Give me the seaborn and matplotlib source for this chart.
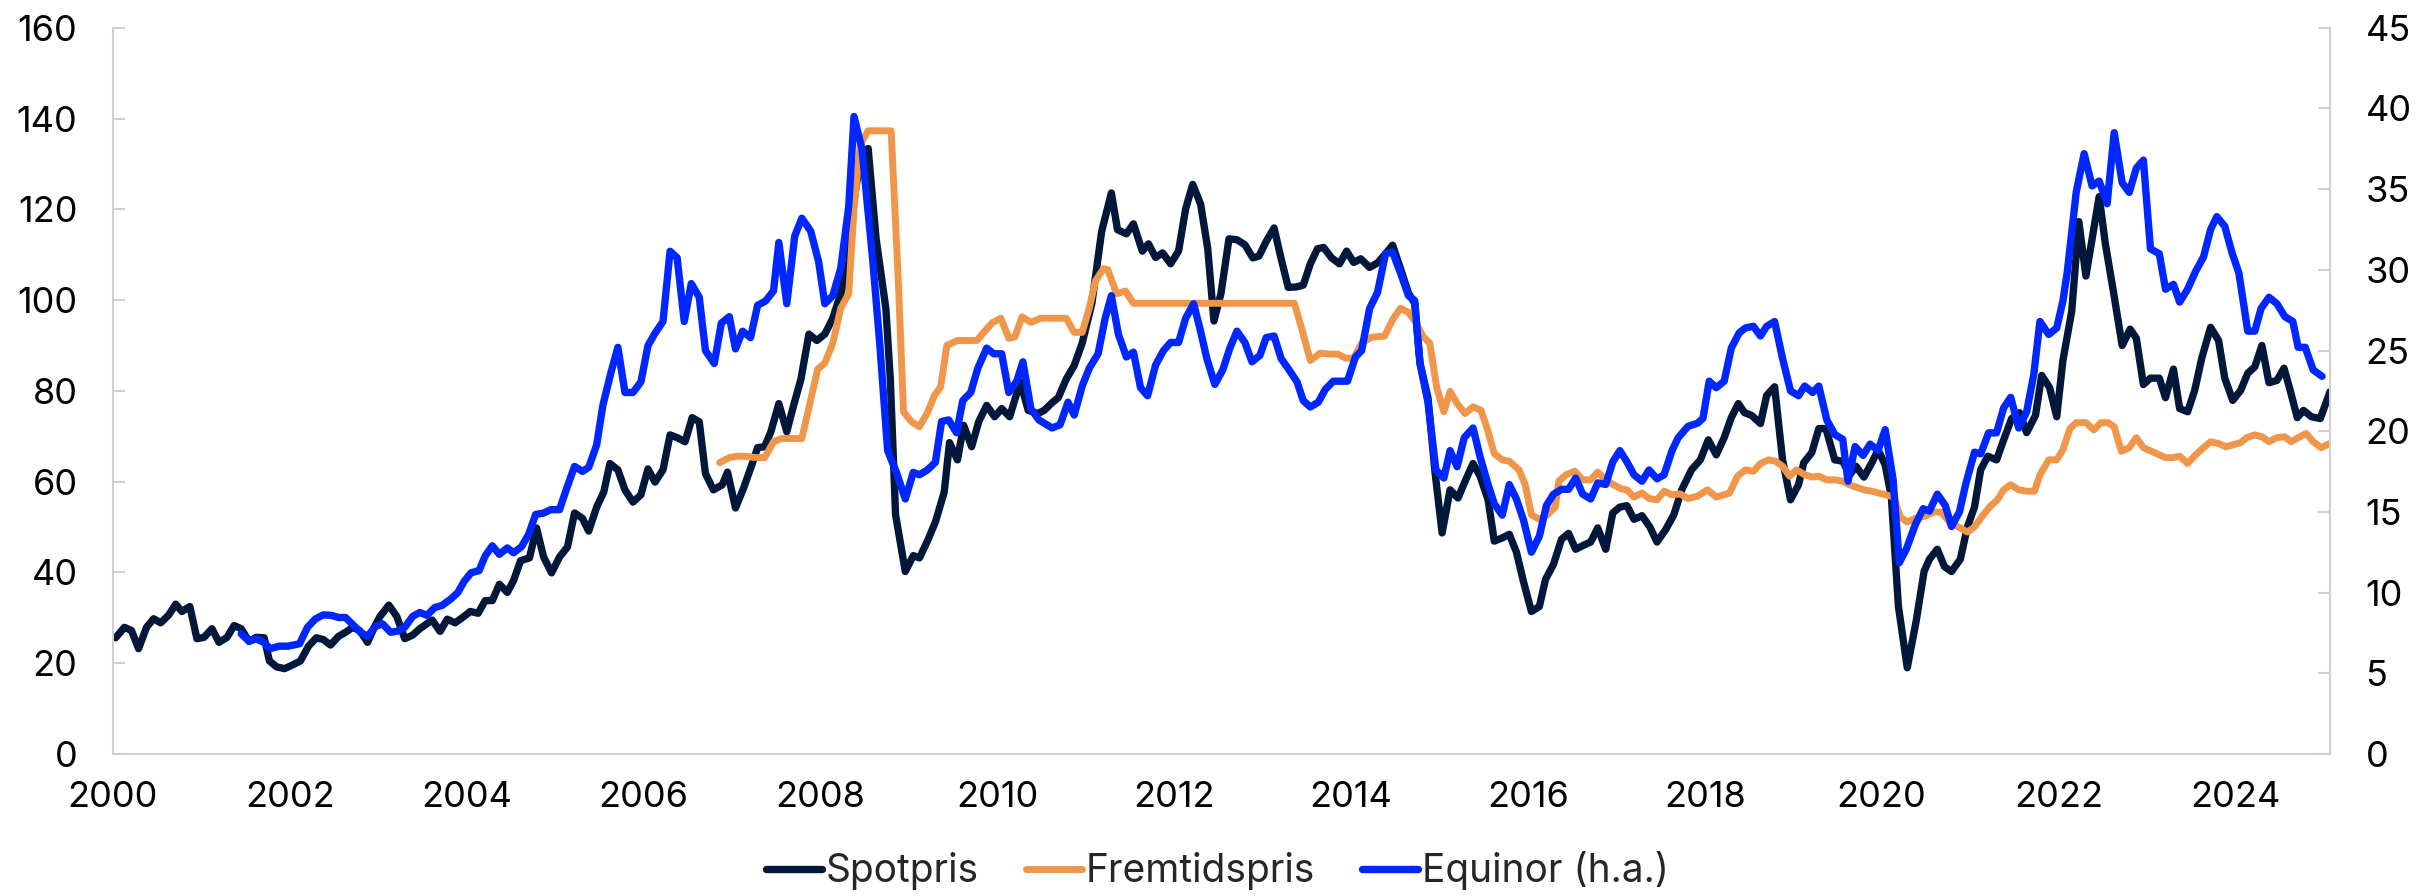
import matplotlib
matplotlib.use('Agg')
import matplotlib.pyplot as plt
import seaborn as sns

# --- data (decimal years) ---
spot_t = [2000.03, 2000.13, 2000.21, 2000.29, 2000.38, 2000.46, 2000.54, 2000.63, 2000.71, 2000.78,
          2000.87, 2000.95, 2001.03, 2001.12, 2001.20, 2001.29, 2001.37, 2001.45, 2001.54, 2001.62,
          2001.71, 2001.77, 2001.85, 2001.94, 2002.03, 2002.12, 2002.21, 2002.30, 2002.38, 2002.46,
          2002.55, 2002.63, 2002.71, 2002.79, 2002.88, 2002.96, 2003.02, 2003.12, 2003.21, 2003.30,
          2003.39, 2003.47, 2003.55, 2003.61, 2003.70, 2003.78, 2003.87, 2003.97, 2004.04, 2004.13,
          2004.21, 2004.29, 2004.37, 2004.46, 2004.53, 2004.61, 2004.71, 2004.79, 2004.87, 2004.96,
          2005.05, 2005.14, 2005.22, 2005.31, 2005.38, 2005.47, 2005.55, 2005.62, 2005.71, 2005.79,
          2005.88, 2005.97, 2006.05, 2006.13, 2006.22, 2006.30, 2006.38, 2006.47, 2006.55, 2006.63,
          2006.70, 2006.79, 2006.89, 2006.95, 2007.04, 2007.13, 2007.23, 2007.29, 2007.37, 2007.44,
          2007.53, 2007.62, 2007.69, 2007.78, 2007.87, 2007.96, 2008.05, 2008.14, 2008.23, 2008.32,
          2008.38, 2008.46, 2008.54, 2008.63, 2008.74, 2008.79, 2008.85, 2008.96, 2009.05, 2009.12,
          2009.21, 2009.30, 2009.40, 2009.46, 2009.55, 2009.62, 2009.71, 2009.79, 2009.88, 2009.97,
          2010.05, 2010.14, 2010.26, 2010.35, 2010.46, 2010.53, 2010.62, 2010.69, 2010.78, 2010.87,
          2010.96, 2011.07, 2011.18, 2011.29, 2011.36, 2011.46, 2011.54, 2011.64, 2011.71, 2011.79,
          2011.87, 2011.96, 2012.05, 2012.13, 2012.21, 2012.30, 2012.38, 2012.45, 2012.53, 2012.62,
          2012.71, 2012.80, 2012.89, 2012.96, 2013.04, 2013.13, 2013.21, 2013.29, 2013.38, 2013.46,
          2013.54, 2013.62, 2013.69, 2013.78, 2013.87, 2013.95, 2014.03, 2014.11, 2014.21, 2014.30,
          2014.39, 2014.47, 2014.56, 2014.65, 2014.72, 2014.78, 2014.87, 2014.95, 2015.03, 2015.12,
          2015.21, 2015.29, 2015.38, 2015.46, 2015.55, 2015.62, 2015.71, 2015.79, 2015.87, 2015.95,
          2016.04, 2016.13, 2016.20, 2016.29, 2016.38, 2016.46, 2016.54, 2016.63, 2016.71, 2016.79,
          2016.88, 2016.96, 2017.04, 2017.12, 2017.20, 2017.29, 2017.38, 2017.46, 2017.56, 2017.65,
          2017.74, 2017.85, 2017.95, 2018.04, 2018.13, 2018.22, 2018.30, 2018.38, 2018.45, 2018.53,
          2018.63, 2018.70, 2018.79, 2018.88, 2018.97, 2019.06, 2019.12, 2019.21, 2019.29, 2019.37,
          2019.47, 2019.56, 2019.64, 2019.71, 2019.80, 2019.89, 2019.96, 2020.04, 2020.11, 2020.19,
          2020.29, 2020.39, 2020.48, 2020.54, 2020.63, 2020.71, 2020.79, 2020.89, 2020.97, 2021.05,
          2021.12, 2021.20, 2021.30, 2021.38, 2021.47, 2021.56, 2021.64, 2021.74, 2021.81, 2021.90,
          2021.98, 2022.05, 2022.15, 2022.23, 2022.31, 2022.39, 2022.46, 2022.53, 2022.62, 2022.72,
          2022.81, 2022.88, 2022.96, 2023.04, 2023.14, 2023.21, 2023.30, 2023.37, 2023.46, 2023.54,
          2023.62, 2023.72, 2023.81, 2023.88, 2023.97, 2024.06, 2024.14, 2024.22, 2024.30, 2024.38,
          2024.47, 2024.55, 2024.62, 2024.70, 2024.77, 2024.86, 2024.96, 2025.07]
spot_v = [25.6, 27.9, 27.2, 23.2, 27.9, 29.8, 28.9, 30.6, 33.0, 31.4,
          32.5, 25.4, 25.7, 27.6, 24.6, 25.7, 28.3, 27.6, 24.8, 25.7,
          25.6, 20.5, 19.2, 18.8, 19.6, 20.5, 23.7, 25.6, 25.2, 24.0,
          25.9, 26.8, 27.9, 27.2, 24.6, 28.1, 30.3, 32.8, 30.3, 25.4,
          26.2, 27.6, 28.7, 29.5, 27.0, 29.7, 28.9, 30.3, 31.4, 31.0,
          33.8, 33.8, 37.4, 35.6, 38.2, 42.6, 43.2, 49.8, 43.4, 39.9,
          43.4, 45.6, 53.1, 51.9, 49.1, 54.4, 57.7, 64.0, 62.6, 58.2,
          55.5, 57.1, 62.8, 59.9, 62.6, 70.3, 69.7, 68.8, 74.1, 73.2,
          61.8, 58.2, 59.3, 62.1, 54.2, 58.5, 64.0, 67.5, 67.7, 71.0,
          77.2, 71.0, 76.3, 82.6, 92.5, 91.1, 92.5, 96.0, 101.4, 108.0,
          122.0, 132.0, 133.4, 113.5, 98.2, 82.8, 52.7, 40.2, 43.7, 43.2,
          46.9, 51.1, 57.7, 68.6, 64.8, 72.4, 67.7, 73.2, 76.8, 74.3,
          76.1, 74.3, 82.0, 75.7, 75.0, 75.7, 77.4, 78.5, 82.6, 85.6,
          90.5, 99.3, 115.1, 123.6, 115.5, 114.6, 116.8, 110.8, 112.4, 109.4,
          110.4, 108.0, 110.8, 120.1, 125.5, 121.1, 111.3, 95.4, 101.5, 113.5,
          113.3, 112.2, 109.3, 109.7, 112.9, 115.9, 109.1, 102.8, 102.9, 103.3,
          108.0, 111.3, 111.6, 109.3, 108.0, 110.8, 108.3, 109.1, 107.2, 108.2,
          110.2, 112.1, 106.9, 101.5, 99.3, 86.1, 78.5, 62.1, 48.7, 58.2,
          56.4, 60.1, 64.0, 61.2, 56.0, 46.9, 47.6, 48.4, 44.5, 38.0,
          31.4, 32.5, 38.5, 41.8, 47.3, 48.6, 45.1, 46.0, 46.7, 49.8,
          45.1, 53.1, 54.4, 54.7, 51.7, 52.5, 50.0, 46.7, 49.5, 52.7,
          58.2, 62.6, 64.8, 69.2, 65.9, 69.7, 74.1, 77.2, 75.2, 74.6,
          72.8, 79.0, 80.9, 64.8, 56.0, 59.3, 64.2, 66.4, 71.7, 71.7,
          64.8, 64.5, 61.5, 63.4, 61.0, 64.2, 67.0, 63.7, 56.6, 32.5,
          19.0, 29.2, 40.2, 42.9, 45.1, 41.3, 40.2, 42.9, 50.0, 54.4,
          62.6, 65.6, 64.8, 69.2, 73.9, 75.2, 70.8, 74.6, 83.4, 80.7,
          74.3, 86.7, 97.6, 117.3, 105.3, 114.6, 122.8, 112.4, 102.0, 90.0,
          93.6, 91.6, 81.4, 82.8, 82.8, 78.5, 84.8, 76.1, 75.4, 80.1,
          87.2, 94.0, 91.1, 82.8, 77.9, 80.1, 83.9, 85.3, 90.0, 81.8,
          82.3, 85.0, 80.1, 74.1, 75.7, 74.3, 73.9, 79.8]

fut_t = [2006.86, 2006.97, 2007.06, 2007.15, 2007.27, 2007.37, 2007.47, 2007.56, 2007.69, 2007.79,
         2007.87, 2007.97, 2008.05, 2008.14, 2008.23, 2008.32, 2008.38, 2008.45, 2008.54, 2008.80,
         2008.88, 2008.94, 2009.03, 2009.12, 2009.21, 2009.29, 2009.36, 2009.43, 2009.55, 2009.77,
         2009.86, 2009.95, 2010.04, 2010.13, 2010.20, 2010.28, 2010.38, 2010.49, 2010.78, 2010.87,
         2010.96, 2011.04, 2011.11, 2011.20, 2011.25, 2011.35, 2011.45, 2011.54, 2013.36, 2013.45,
         2013.54, 2013.65, 2013.76, 2013.85, 2013.94, 2014.03, 2014.12, 2014.23, 2014.38, 2014.48,
         2014.56, 2014.65, 2014.74, 2014.81, 2014.89, 2014.97, 2015.05, 2015.12, 2015.20, 2015.29,
         2015.38, 2015.47, 2015.54, 2015.62, 2015.71, 2015.79, 2015.90, 2015.97, 2016.04, 2016.13,
         2016.22, 2016.31, 2016.35, 2016.43, 2016.53, 2016.62, 2016.71, 2016.79, 2016.88, 2016.97,
         2017.06, 2017.12, 2017.20, 2017.29, 2017.37, 2017.46, 2017.54, 2017.63, 2017.72, 2017.81,
         2017.92, 2018.03, 2018.13, 2018.28, 2018.37, 2018.46, 2018.55, 2018.63, 2018.72, 2018.80,
         2018.88, 2018.96, 2019.04, 2019.13, 2019.22, 2019.29, 2019.38, 2019.47, 2019.56, 2019.64,
         2019.71, 2019.80, 2019.89, 2019.96, 2020.05, 2020.14, 2020.21, 2020.29, 2020.39, 2020.49,
         2020.59, 2020.67, 2020.77, 2020.87, 2020.97, 2021.05, 2021.15, 2021.22, 2021.31, 2021.38,
         2021.46, 2021.55, 2021.64, 2021.73, 2021.79, 2021.89, 2021.98, 2022.05, 2022.13, 2022.20,
         2022.31, 2022.40, 2022.48, 2022.56, 2022.63, 2022.71, 2022.80, 2022.88, 2022.96, 2023.05,
         2023.14, 2023.21, 2023.30, 2023.37, 2023.46, 2023.55, 2023.64, 2023.72, 2023.81, 2023.89,
         2023.97, 2024.06, 2024.13, 2024.22, 2024.30, 2024.38, 2024.47, 2024.56, 2024.63, 2024.71,
         2024.80, 2024.88, 2024.97, 2025.07]
fut_v = [64.2, 65.3, 65.6, 65.6, 65.3, 65.3, 68.8, 69.5, 69.5, 69.5,
         76.3, 84.8, 86.1, 90.5, 98.2, 101.4, 120.1, 134.3, 137.3, 137.3,
         104.7, 75.4, 73.2, 72.1, 75.2, 79.0, 80.9, 90.0, 91.1, 91.1,
         93.2, 95.1, 96.0, 91.6, 91.9, 96.3, 95.1, 96.0, 96.0, 92.9,
         92.9, 98.2, 104.2, 106.9, 106.7, 101.4, 102.0, 99.3, 99.3, 93.2,
         86.7, 88.3, 88.1, 88.1, 87.2, 87.2, 90.5, 91.8, 92.1, 96.0,
         98.2, 97.3, 94.9, 92.1, 90.5, 80.7, 75.4, 79.9, 77.2, 75.0,
         76.5, 75.7, 71.7, 66.2, 64.8, 64.5, 62.6, 59.3, 52.7, 51.7,
         52.7, 54.4, 60.1, 61.5, 62.3, 60.4, 60.4, 62.1, 60.4, 59.3,
         58.4, 58.2, 56.6, 57.5, 56.3, 56.0, 57.9, 57.1, 57.3, 56.3,
         56.8, 58.2, 56.6, 57.5, 61.2, 62.6, 62.3, 64.0, 64.8, 64.5,
         63.4, 61.2, 62.6, 61.5, 61.0, 61.2, 60.4, 60.4, 60.1, 59.3,
         58.8, 58.2, 57.9, 57.5, 57.1, 56.6, 52.2, 51.1, 52.0, 52.4,
         53.3, 53.3, 51.1, 50.0, 48.9, 50.0, 52.7, 54.4, 56.0, 58.2,
         59.3, 58.2, 57.9, 57.9, 61.5, 64.8, 64.8, 67.0, 71.7, 73.0,
         73.0, 71.4, 73.0, 73.0, 72.1, 66.7, 67.5, 69.7, 67.5, 66.7,
         65.9, 65.3, 65.3, 65.6, 64.0, 65.9, 67.5, 68.8, 68.4, 67.7,
         68.1, 68.6, 69.7, 70.3, 69.9, 68.8, 69.7, 69.9, 68.8, 69.7,
         70.6, 68.8, 67.5, 68.4]

eqnr_t = [2001.45, 2001.54, 2001.62, 2001.70, 2001.78, 2001.88, 2001.98, 2002.11, 2002.20, 2002.29,
          2002.38, 2002.47, 2002.55, 2002.63, 2002.72, 2002.80, 2002.88, 2002.97, 2003.05, 2003.14,
          2003.21, 2003.30, 2003.39, 2003.47, 2003.55, 2003.64, 2003.72, 2003.82, 2003.90, 2003.97,
          2004.05, 2004.14, 2004.21, 2004.29, 2004.37, 2004.46, 2004.53, 2004.62, 2004.70, 2004.78,
          2004.87, 2004.95, 2005.05, 2005.14, 2005.22, 2005.31, 2005.38, 2005.47, 2005.54, 2005.63,
          2005.71, 2005.79, 2005.88, 2005.97, 2006.05, 2006.13, 2006.22, 2006.30, 2006.38, 2006.46,
          2006.54, 2006.63, 2006.70, 2006.80, 2006.88, 2006.97, 2007.04, 2007.12, 2007.21, 2007.29,
          2007.38, 2007.47, 2007.53, 2007.62, 2007.71, 2007.79, 2007.89, 2007.98, 2008.05, 2008.14,
          2008.23, 2008.32, 2008.38, 2008.47, 2008.59, 2008.67, 2008.76, 2008.86, 2008.96, 2009.05,
          2009.12, 2009.21, 2009.30, 2009.37, 2009.45, 2009.54, 2009.61, 2009.70, 2009.78, 2009.88,
          2009.96, 2010.05, 2010.13, 2010.22, 2010.29, 2010.38, 2010.47, 2010.62, 2010.71, 2010.80,
          2010.87, 2010.96, 2011.04, 2011.14, 2011.22, 2011.29, 2011.37, 2011.46, 2011.54, 2011.62,
          2011.70, 2011.79, 2011.88, 2011.96, 2012.05, 2012.13, 2012.22, 2012.29, 2012.37, 2012.46,
          2012.55, 2012.63, 2012.71, 2012.80, 2012.88, 2012.97, 2013.04, 2013.13, 2013.21, 2013.30,
          2013.39, 2013.46, 2013.54, 2013.63, 2013.71, 2013.80, 2013.88, 2013.96, 2014.05, 2014.12,
          2014.21, 2014.30, 2014.39, 2014.47, 2014.56, 2014.65, 2014.72, 2014.78, 2014.87, 2014.96,
          2015.05, 2015.12, 2015.20, 2015.28, 2015.38, 2015.46, 2015.55, 2015.62, 2015.71, 2015.79,
          2015.87, 2015.95, 2016.04, 2016.13, 2016.21, 2016.29, 2016.38, 2016.46, 2016.54, 2016.62,
          2016.71, 2016.79, 2016.88, 2016.96, 2017.04, 2017.12, 2017.20, 2017.29, 2017.37, 2017.46,
          2017.54, 2017.63, 2017.70, 2017.81, 2017.92, 2017.98, 2018.05, 2018.13, 2018.22, 2018.30,
          2018.39, 2018.46, 2018.55, 2018.63, 2018.70, 2018.79, 2018.88, 2018.97, 2019.06, 2019.13,
          2019.22, 2019.29, 2019.38, 2019.47, 2019.56, 2019.62, 2019.70, 2019.79, 2019.87, 2019.96,
          2020.04, 2020.13, 2020.20, 2020.28, 2020.38, 2020.47, 2020.54, 2020.63, 2020.72, 2020.79,
          2020.88, 2020.95, 2021.05, 2021.12, 2021.21, 2021.30, 2021.38, 2021.46, 2021.55, 2021.64,
          2021.72, 2021.79, 2021.89, 2021.98, 2022.05, 2022.10, 2022.20, 2022.29, 2022.38, 2022.46,
          2022.55, 2022.63, 2022.72, 2022.80, 2022.88, 2022.96, 2023.04, 2023.14, 2023.21, 2023.30,
          2023.37, 2023.46, 2023.55, 2023.64, 2023.72, 2023.79, 2023.88, 2023.96, 2024.04, 2024.14,
          2024.22, 2024.29, 2024.38, 2024.47, 2024.56, 2024.65, 2024.71, 2024.79, 2024.88, 2024.98]
eqnr_v = [7.45, 6.99, 7.14, 6.93, 6.53, 6.68, 6.68, 6.83, 7.85, 8.37,
          8.62, 8.59, 8.46, 8.46, 7.97, 7.54, 7.29, 7.91, 8.06, 7.54,
          7.60, 7.85, 8.53, 8.77, 8.59, 9.08, 9.20, 9.60, 10.0, 10.68,
          11.23, 11.36, 12.28, 12.90, 12.37, 12.77, 12.47, 12.84, 13.6, 14.84,
          14.93, 15.14, 15.14, 16.6, 17.82, 17.51, 17.76, 19.15, 21.6, 23.6,
          25.2, 22.4, 22.4, 23.05, 25.3, 26.07, 26.8, 31.15, 30.75, 26.8,
          29.15, 28.3, 25.0, 24.2, 26.7, 27.1, 25.1, 26.2, 25.8, 27.8,
          28.07, 28.7, 31.7, 27.9, 32.1, 33.2, 32.4, 30.5, 27.9, 28.4,
          30.1, 33.9, 39.5, 37.5, 30.7, 25.5, 18.8, 17.45, 15.8, 17.45,
          17.3, 17.6, 18.07, 20.6, 20.7, 19.9, 21.9, 22.4, 23.9, 25.15,
          24.8, 24.8, 22.4, 23.1, 24.3, 21.4, 20.7, 20.2, 20.4, 21.8,
          21.0, 22.8, 23.9, 24.8, 27.0, 28.4, 26.0, 24.6, 24.9, 22.7,
          22.2, 24.1, 25.0, 25.5, 25.5, 27.0, 27.9, 26.4, 24.5, 22.9,
          23.8, 25.15, 26.2, 25.5, 24.3, 24.7, 25.8, 25.9, 24.5, 23.8,
          23.05, 21.9, 21.5, 21.8, 22.6, 23.1, 23.1, 23.1, 24.6, 25.0,
          27.6, 28.6, 31.0, 31.1, 29.8, 28.4, 28.1, 24.2, 21.8, 17.6,
          17.1, 18.8, 17.8, 19.6, 20.2, 18.4, 16.7, 15.5, 14.8, 16.7,
          15.8, 14.5, 12.5, 13.5, 15.4, 16.1, 16.4, 16.4, 17.1, 16.1,
          15.8, 16.8, 16.7, 18.1, 18.8, 18.1, 17.3, 16.9, 17.6, 17.05,
          17.3, 18.8, 19.6, 20.3, 20.5, 20.8, 23.1, 22.7, 23.1, 25.15,
          26.1, 26.4, 26.5, 25.9, 26.5, 26.8, 24.5, 22.5, 22.2, 22.8,
          22.4, 22.8, 20.7, 19.8, 19.5, 16.9, 19.05, 18.5, 19.2, 18.8,
          20.1, 17.0, 11.85, 12.7, 14.2, 15.2, 15.05, 16.1, 15.4, 14.1,
          15.0, 16.7, 18.7, 18.6, 19.9, 19.9, 21.45, 22.1, 20.2, 21.2,
          23.5, 26.8, 26.0, 26.4, 28.07, 29.9, 34.8, 37.2, 35.2, 35.5,
          34.1, 38.5, 35.4, 34.8, 36.3, 36.8, 31.3, 31.0, 28.8, 29.1,
          28.0, 28.8, 29.9, 30.8, 32.5, 33.3, 32.7, 31.1, 29.8, 26.2,
          26.2, 27.6, 28.3, 27.9, 27.1, 26.8, 25.2, 25.2, 23.8, 23.4]

labels = ['Spotpris', 'Fremtidspris', 'Equinor (h.a.)']
x_ticks = list(range(2000, 2025, 2))
left_ticks = list(range(0, 161, 20))
right_ticks = list(range(0, 46, 5))

NAVY = '#02183A'
ORANGE = '#F0964B'
BLUE = '#0027FF'
GREY = '#D0D0D0'

sns.set_style('white')
plt.rcParams['font.family'] = ['Inter', 'DejaVu Sans']

fig = plt.figure(figsize=(24.18, 8.96), dpi=100)
ax = fig.add_axes([0.0467, 0.1585, 0.9169, 0.8105])
ax2 = ax.twinx()

sns.lineplot(x=spot_t, y=spot_v, ax=ax, color=NAVY, linewidth=5.3, sort=False,
             estimator=None, legend=False)
sns.lineplot(x=fut_t, y=fut_v, ax=ax, color=ORANGE, linewidth=5.0, sort=False,
             estimator=None, legend=False)
sns.lineplot(x=eqnr_t, y=eqnr_v, ax=ax2, color=BLUE, linewidth=5.3, sort=False,
             estimator=None, legend=False)

ax.set_xlim(2000, 2025.07)
ax.set_ylim(0, 160)
ax2.set_ylim(0, 45)
ax.set_xticks(x_ticks)
ax.set_xticklabels([str(y) for y in x_ticks])
ax.set_yticks(left_ticks)
ax2.set_yticks(right_ticks)
ax.set(xlabel='', ylabel='')
ax2.set(ylabel='')

for a in (ax, ax2):
    a.tick_params(direction='in', length=8.5, width=1.5, color=GREY,
                  labelsize=26, labelcolor='black', pad=25.5)
    a.spines['top'].set_visible(False)
    a.grid(False)
ax.tick_params(axis='x', pad=19.5)
for s in ('left', 'bottom'):
    ax.spines[s].set_color(GREY)
    ax.spines[s].set_linewidth(1.5)
    ax2.spines[s].set_visible(False)
ax.spines['right'].set_visible(False)
ax2.spines['right'].set_color(GREY)
ax2.spines['right'].set_linewidth(1.5)

handles = ax.get_lines()[:2] + ax2.get_lines()[:1]
fig.legend(handles, labels, loc='center', bbox_to_anchor=(0.5035, 0.028), ncol=3,
           frameon=False, fontsize=28, handlelength=1.45, handletextpad=0.1,
           columnspacing=1.2)

fig.savefig('out.png', dpi=100)
